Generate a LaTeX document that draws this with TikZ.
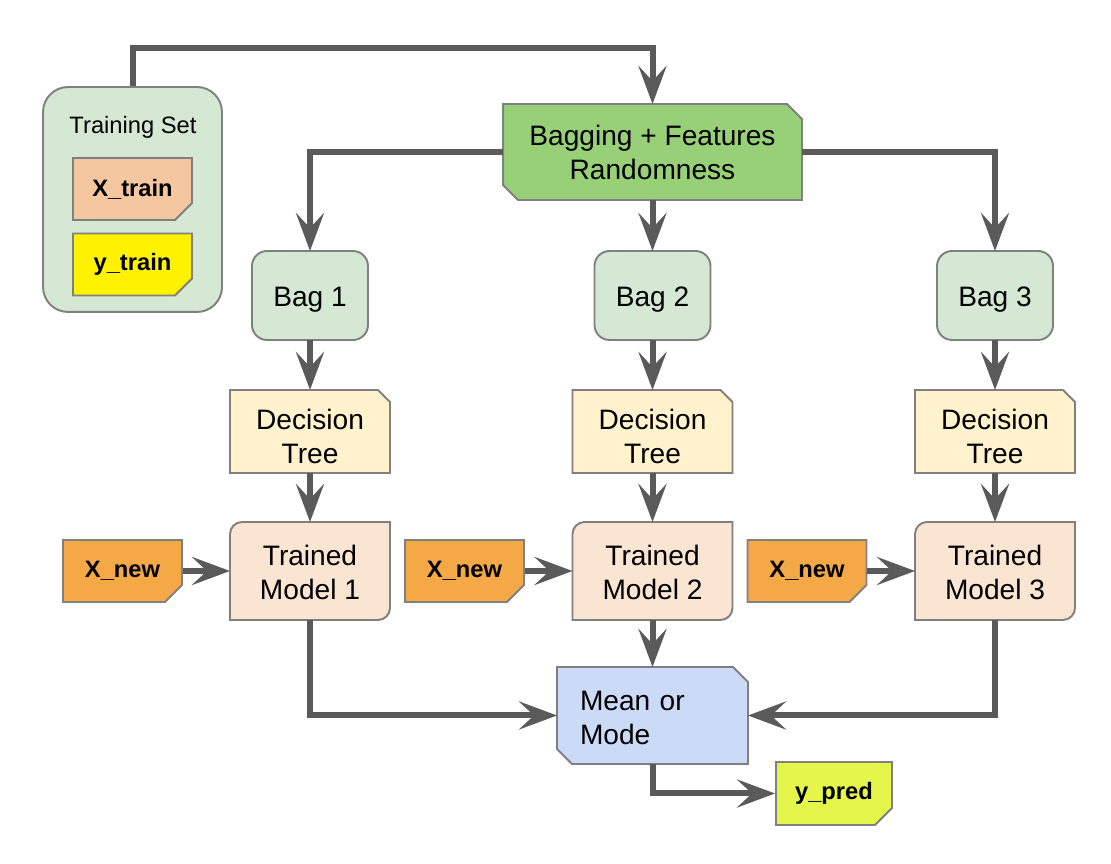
\documentclass[tikz,border=0pt]{standalone}
\usepackage{fontspec}
\setmainfont{Liberation Sans}
\usetikzlibrary{arrows.meta,shapes.misc,backgrounds}
\definecolor{arrowgray}{RGB}{90,90,90}
\definecolor{edgegray}{RGB}{128,128,128}
\definecolor{setgreen}{RGB}{213,232,212}
\definecolor{baggreen}{RGB}{151,208,119}
\definecolor{trainpeach}{RGB}{244,199,160}
\definecolor{treeyellow}{RGB}{255,242,204}
\definecolor{modelpeach}{RGB}{250,228,210}
\definecolor{neworange}{RGB}{245,168,70}
\definecolor{meanblue}{RGB}{202,218,247}
\definecolor{predyellow}{RGB}{230,245,74}
\tikzset{>={Stealth[length=0.76cm,width=0.56cm,inset=0.3cm]}}
\tikzset{
  arr/.style={->, draw=arrowgray, line width=0.12cm},
  txt/.style={font=\fontsize{16}{19.5}\selectfont, align=center, inner sep=0pt, outer sep=0pt},
  bagbox/.style={txt, draw=edgegray, line width=1.1pt, fill=setgreen, rounded corners=0.3cm, minimum width=2.32cm, minimum height=1.78cm, text height=12.6pt, text depth=0pt},
  treebox/.style={txt, minimum width=3.2cm, minimum height=1.66cm, text height=37pt, text depth=0pt},
  modelbox/.style={txt, minimum width=3.2cm, minimum height=1.96cm, text height=32.8pt, text depth=0pt},
  edgeshape/.style={draw=edgegray, line width=1.1pt},
  notebox/.style={chamfered rectangle, chamfered rectangle corners=south east, chamfered rectangle sep=0.17cm, draw=edgegray, line width=1.1pt, minimum width=2.38cm, minimum height=1.24cm, font=\bfseries\fontsize{13.5}{16}\selectfont,
    path picture={\fill[black,opacity=0.4] ([xshift=-0.17cm]path picture bounding box.south east) -- ([yshift=0.17cm]path picture bounding box.south east) -- ([xshift=-0.15cm,yshift=0.15cm]path picture bounding box.south east) -- cycle;}},
}
\begin{document}
\begin{tikzpicture}[x=0.02cm,y=0.02cm]
  \useasboundingbox (0,0) rectangle (1111,864);

  % training set
  \node[draw=edgegray, line width=1.1pt, fill=setgreen, rounded corners=0.5cm, minimum width=3.58cm, minimum height=4.5cm] (trainset) at (132.5,664.5) {};
  \node[font=\fontsize{13.5}{16}\selectfont] (setlabel) at (133,737) {Training Set};
  \node[notebox, fill=trainpeach] (xtrain) at (132.5,675) {X\_train};
  \node[notebox, fill=yellow] (ytrain) at (132.5,599.5) {y\_train};

  % bagging
  \node[txt, minimum width=5.98cm, minimum height=1.92cm, text height=31.4pt, text depth=0pt] (bagging) at (652.5,712) {Bagging + Features\\Randomness};
  \coordinate (top) at (652.5,816);

  \node[bagbox] (bag1) at (310,568.5) {Bag 1};
  \node[bagbox] (bag2) at (652.5,568.5) {Bag 2};
  \node[bagbox] (bag3) at (995,568.5) {Bag 3};

  \node[treebox] (tree1) at (310,432.5) {Decision\\Tree};
  \node[treebox] (tree2) at (652.5,432.5) {Decision\\Tree};
  \node[treebox] (tree3) at (995,432.5) {Decision\\Tree};

  \node[modelbox] (model1) at (310,293) {Trained\\Model 1};
  \node[modelbox] (model2) at (652.5,293) {Trained\\Model 2};
  \node[modelbox] (model3) at (995,293) {Trained\\Model 3};

  \node[notebox, fill=neworange] (xnew1) at (122.5,293) {X\_new};
  \node[notebox, fill=neworange] (xnew2) at (464.5,293) {X\_new};
  \node[notebox, fill=neworange] (xnew3) at (807,293) {X\_new};

  \node[txt, align=left, text width=2.9cm, inner xsep=0.46cm, minimum width=3.82cm, minimum height=1.94cm, text height=13.8pt, text depth=19.5pt] (mean) at (652.5,148.5) {Mean or\\Mode};
  \node[notebox, fill=predyellow, minimum width=2.32cm, minimum height=1.26cm] (ypred) at (834,70.5) {y\_pred};

  % shapes behind the texts
  \begin{scope}[on background layer]
    \filldraw[edgeshape, fill=baggreen] (bagging.north west) -- ([xshift=-0.3cm]bagging.north east) -- ([yshift=-0.3cm]bagging.north east) -- (bagging.south east) -- ([xshift=0.3cm]bagging.south west) -- ([yshift=0.3cm]bagging.south west) -- cycle;
    \filldraw[edgeshape, fill=meanblue] (mean.north west) -- ([xshift=-0.3cm]mean.north east) -- ([yshift=-0.3cm]mean.north east) -- (mean.south east) -- ([xshift=0.3cm]mean.south west) -- ([yshift=0.3cm]mean.south west) -- cycle;

    \filldraw[edgeshape, fill=treeyellow] (tree1.south west) -- (tree1.north west) -- ([xshift=-0.24cm]tree1.north east) -- ([yshift=-0.24cm]tree1.north east) -- (tree1.south east) -- cycle;
    \filldraw[edgeshape, fill=treeyellow] (tree2.south west) -- (tree2.north west) -- ([xshift=-0.24cm]tree2.north east) -- ([yshift=-0.24cm]tree2.north east) -- (tree2.south east) -- cycle;
    \filldraw[edgeshape, fill=treeyellow] (tree3.south west) -- (tree3.north west) -- ([xshift=-0.24cm]tree3.north east) -- ([yshift=-0.24cm]tree3.north east) -- (tree3.south east) -- cycle;

    \filldraw[edgeshape, fill=modelpeach] ([yshift=-0.24cm]model1.north west) arc[start angle=180,end angle=90,radius=0.24cm] -- (model1.north east) -- ([yshift=0.24cm]model1.south east) arc[start angle=0,end angle=-90,radius=0.24cm] -- (model1.south west) -- cycle;
    \filldraw[edgeshape, fill=modelpeach] ([yshift=-0.24cm]model2.north west) arc[start angle=180,end angle=90,radius=0.24cm] -- (model2.north east) -- ([yshift=0.24cm]model2.south east) arc[start angle=0,end angle=-90,radius=0.24cm] -- (model2.south west) -- cycle;
    \filldraw[edgeshape, fill=modelpeach] ([yshift=-0.24cm]model3.north west) arc[start angle=180,end angle=90,radius=0.24cm] -- (model3.north east) -- ([yshift=0.24cm]model3.south east) arc[start angle=0,end angle=-90,radius=0.24cm] -- (model3.south west) -- cycle;
  \end{scope}

  % arrows
  \draw[arr] (trainset.north) |- (top) -- (bagging);
  \draw[arr] (bagging.west) -| (bag1);
  \draw[arr] (bagging) -- (bag2);
  \draw[arr] (bagging.east) -| (bag3);

  \draw[arr] (bag1) -- (tree1);
  \draw[arr] (bag2) -- (tree2);
  \draw[arr] (bag3) -- (tree3);
  \draw[arr] (tree1) -- (model1);
  \draw[arr] (tree2) -- (model2);
  \draw[arr] (tree3) -- (model3);

  \draw[arr] (xnew1.east) -- (xnew1.east -| model1.west);
  \draw[arr] (xnew2.east) -- (xnew2.east -| model2.west);
  \draw[arr] (xnew3.east) -- (xnew3.east -| model3.west);

  \draw[arr] (model1) |- (mean);
  \draw[arr] (model2) -- (mean);
  \draw[arr] (model3) |- (mean);
  \draw[arr] (mean) |- (ypred);
\end{tikzpicture}
\end{document}
